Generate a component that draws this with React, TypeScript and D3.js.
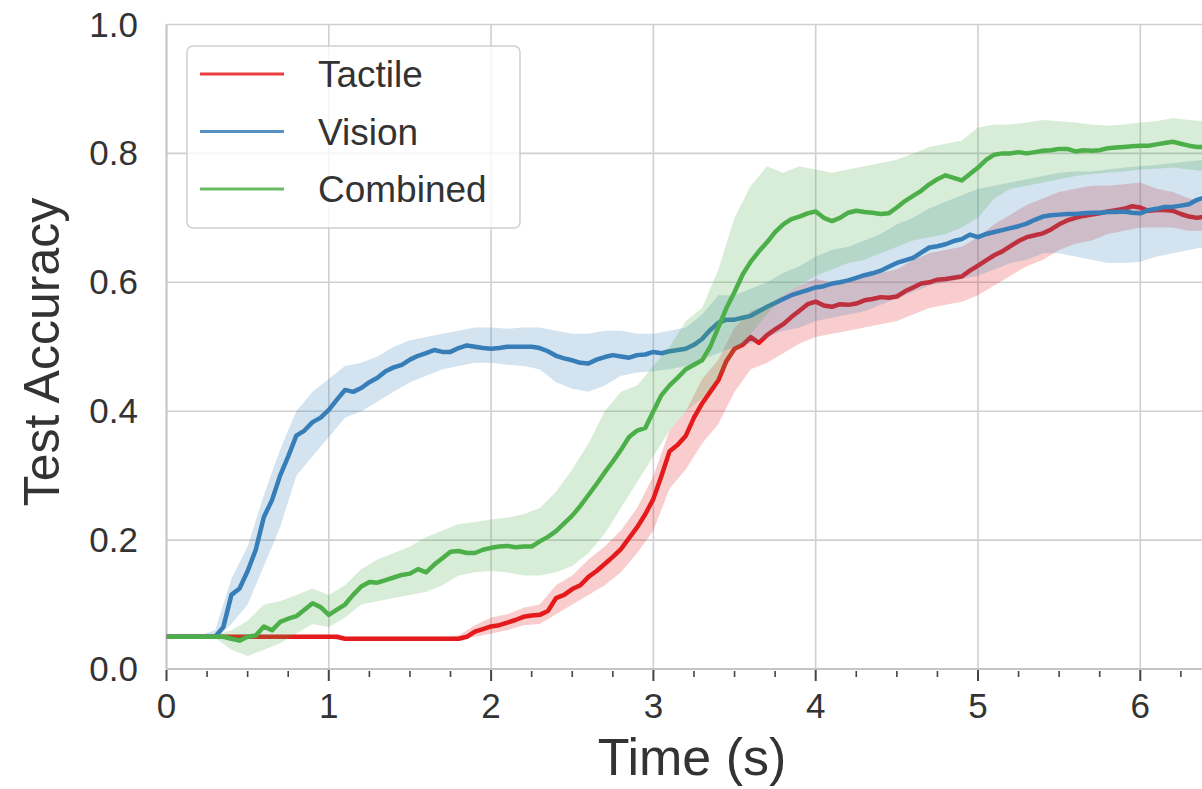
import React from 'react';
import * as d3 from 'd3';

// sampling of the curves (seconds)
const TIME_STEP = 0.05;
const BAND_STEP = 0.1;

const seriesNames = ['Tactile', 'Vision', 'Combined'];
const seriesColors = ['#e41a1c', '#377eb8', '#4daf4a'];

const xTicks = [0, 1, 2, 3, 4, 5, 6];
const xMinorTicks = [0.25, 0.5, 0.75, 1.25, 1.5, 1.75, 2.25, 2.5, 2.75, 3.25, 3.5, 3.75, 4.25, 4.5, 4.75, 5.25, 5.5, 5.75, 6.25];
const yTicks = [0, 0.2, 0.4, 0.6, 0.8, 1.0];

// mean accuracy, one value every 0.05 s from 0 to 6.4 s
const tactileMean = [
  0.05, 0.05, 0.05, 0.05, 0.05, 0.05, 0.05, 0.05, 0.05, 0.05,
  0.05, 0.05, 0.05, 0.05, 0.05, 0.05, 0.05, 0.05, 0.05, 0.05,
  0.05, 0.05, 0.047, 0.047, 0.047, 0.047, 0.047, 0.047, 0.047, 0.047,
  0.047, 0.047, 0.047, 0.047, 0.047, 0.047, 0.047, 0.05, 0.058, 0.062,
  0.066, 0.068, 0.072, 0.076, 0.081, 0.083, 0.084, 0.09, 0.11, 0.115,
  0.124, 0.13, 0.143, 0.152, 0.163, 0.174, 0.186, 0.203, 0.22, 0.24,
  0.264, 0.30, 0.338, 0.348, 0.362, 0.39, 0.412, 0.43, 0.448, 0.478,
  0.497, 0.503, 0.515, 0.506, 0.518, 0.527, 0.535, 0.546, 0.556, 0.566,
  0.57, 0.564, 0.562, 0.566, 0.565, 0.567, 0.572, 0.574, 0.577, 0.576,
  0.578, 0.586, 0.592, 0.598, 0.60, 0.604, 0.605, 0.607, 0.609, 0.618,
  0.626, 0.634, 0.642, 0.648, 0.656, 0.664, 0.67, 0.673, 0.676, 0.682,
  0.69, 0.696, 0.70, 0.703, 0.705, 0.707, 0.71, 0.712, 0.714, 0.718,
  0.716, 0.711, 0.712, 0.712, 0.711, 0.706, 0.702, 0.70, 0.702,
];

const visionMean = [
  0.05, 0.05, 0.05, 0.05, 0.05, 0.05, 0.05, 0.065, 0.115, 0.125,
  0.152, 0.185, 0.236, 0.262, 0.30, 0.33, 0.362, 0.37, 0.383, 0.39,
  0.402, 0.418, 0.433, 0.43, 0.436, 0.445, 0.452, 0.462, 0.468, 0.472,
  0.48, 0.486, 0.49, 0.495, 0.492, 0.492, 0.498, 0.502, 0.50, 0.498,
  0.497, 0.498, 0.50, 0.50, 0.50, 0.50, 0.498, 0.493, 0.486, 0.482,
  0.479, 0.475, 0.474, 0.48, 0.484, 0.487, 0.485, 0.483, 0.487, 0.488,
  0.492, 0.49, 0.493, 0.495, 0.497, 0.503, 0.512, 0.526, 0.537, 0.542,
  0.542, 0.545, 0.548, 0.555, 0.562, 0.568, 0.574, 0.58, 0.584, 0.588,
  0.592, 0.594, 0.598, 0.60, 0.603, 0.607, 0.611, 0.614, 0.618, 0.624,
  0.63, 0.634, 0.638, 0.646, 0.654, 0.656, 0.659, 0.664, 0.667, 0.674,
  0.67, 0.675, 0.678, 0.681, 0.684, 0.687, 0.691, 0.697, 0.702, 0.704,
  0.705, 0.706, 0.706, 0.707, 0.708, 0.708, 0.709, 0.709, 0.71, 0.708,
  0.707, 0.712, 0.714, 0.717, 0.717, 0.719, 0.721, 0.728, 0.732,
];

const combinedMean = [
  0.05, 0.05, 0.05, 0.05, 0.05, 0.05, 0.05, 0.05, 0.047, 0.044,
  0.05, 0.052, 0.066, 0.06, 0.073, 0.078, 0.082, 0.092, 0.102, 0.096,
  0.084, 0.092, 0.10, 0.115, 0.128, 0.135, 0.134, 0.138, 0.142, 0.146,
  0.148, 0.155, 0.15, 0.162, 0.172, 0.182, 0.183, 0.18, 0.18, 0.185,
  0.188, 0.19, 0.191, 0.189, 0.19, 0.19, 0.198, 0.205, 0.214, 0.226,
  0.238, 0.253, 0.27, 0.287, 0.305, 0.322, 0.34, 0.36, 0.37, 0.374,
  0.40, 0.425, 0.44, 0.452, 0.465, 0.472, 0.479, 0.50, 0.53, 0.56,
  0.585, 0.612, 0.632, 0.648, 0.662, 0.678, 0.69, 0.698, 0.702, 0.707,
  0.71, 0.70, 0.695, 0.70, 0.708, 0.711, 0.709, 0.708, 0.706, 0.707,
  0.716, 0.726, 0.734, 0.742, 0.752, 0.76, 0.766, 0.762, 0.758, 0.768,
  0.778, 0.79, 0.798, 0.80, 0.80, 0.802, 0.80, 0.802, 0.804, 0.805,
  0.807, 0.807, 0.803, 0.805, 0.804, 0.805, 0.808, 0.809, 0.81, 0.811,
  0.812, 0.812, 0.814, 0.816, 0.818, 0.815, 0.812, 0.81, 0.81,
];

// spread band (lower / upper), one value every 0.1 s from 0 to 6.4 s
const tactileLow = [
  0.047, 0.047, 0.047, 0.047, 0.047, 0.047, 0.047, 0.047, 0.047, 0.047,
  0.047, 0.044, 0.044, 0.044, 0.044, 0.044, 0.044, 0.044, 0.044, 0.05,
  0.055, 0.06, 0.068, 0.07, 0.085, 0.10, 0.115, 0.13, 0.15, 0.18,
  0.215, 0.28, 0.31, 0.35, 0.38, 0.43, 0.465, 0.475, 0.49, 0.505,
  0.515, 0.52, 0.525, 0.53, 0.535, 0.54, 0.55, 0.56, 0.565, 0.57,
  0.58, 0.595, 0.61, 0.625, 0.635, 0.65, 0.66, 0.665, 0.675, 0.68,
  0.685, 0.685, 0.685, 0.68, 0.68,
];
const tactileHigh = [
  0.053, 0.053, 0.053, 0.053, 0.053, 0.053, 0.053, 0.053, 0.053, 0.053,
  0.053, 0.05, 0.05, 0.05, 0.05, 0.05, 0.05, 0.05, 0.052, 0.068,
  0.08, 0.085, 0.095, 0.10, 0.13, 0.145, 0.17, 0.19, 0.215, 0.25,
  0.30, 0.37, 0.40, 0.45, 0.48, 0.53, 0.555, 0.565, 0.58, 0.595,
  0.605, 0.60, 0.605, 0.61, 0.615, 0.62, 0.635, 0.645, 0.65, 0.655,
  0.67, 0.69, 0.705, 0.72, 0.73, 0.74, 0.745, 0.75, 0.75, 0.752,
  0.755, 0.745, 0.74, 0.73, 0.725,
];
const visionLow = [
  0.048, 0.048, 0.048, 0.046, 0.07, 0.10, 0.16, 0.22, 0.30, 0.33,
  0.36, 0.39, 0.40, 0.415, 0.43, 0.445, 0.455, 0.465, 0.47, 0.475,
  0.475, 0.472, 0.47, 0.465, 0.445, 0.435, 0.43, 0.44, 0.455, 0.46,
  0.462, 0.465, 0.47, 0.48, 0.49, 0.50, 0.505, 0.515, 0.525, 0.53,
  0.54, 0.545, 0.55, 0.555, 0.565, 0.575, 0.585, 0.595, 0.60, 0.605,
  0.61, 0.62, 0.63, 0.635, 0.645, 0.645, 0.64, 0.635, 0.63, 0.63,
  0.632, 0.64, 0.645, 0.65, 0.655,
];
const visionHigh = [
  0.052, 0.052, 0.052, 0.06, 0.14, 0.19, 0.27, 0.34, 0.40, 0.43,
  0.45, 0.47, 0.475, 0.485, 0.50, 0.51, 0.515, 0.52, 0.525, 0.53,
  0.53, 0.528, 0.53, 0.53, 0.525, 0.52, 0.52, 0.525, 0.525, 0.52,
  0.52, 0.525, 0.53, 0.55, 0.58, 0.58, 0.59, 0.60, 0.615, 0.625,
  0.64, 0.65, 0.655, 0.665, 0.675, 0.69, 0.70, 0.715, 0.725, 0.735,
  0.745, 0.75, 0.755, 0.76, 0.765, 0.77, 0.772, 0.772, 0.775, 0.778,
  0.78, 0.782, 0.785, 0.788, 0.79,
];
const combinedLow = [
  0.048, 0.048, 0.048, 0.048, 0.03, 0.02, 0.03, 0.04, 0.055, 0.07,
  0.065, 0.08, 0.10, 0.105, 0.11, 0.115, 0.12, 0.13, 0.145, 0.15,
  0.152, 0.15, 0.145, 0.145, 0.15, 0.16, 0.18, 0.21, 0.25, 0.29,
  0.33, 0.37, 0.40, 0.42, 0.45, 0.49, 0.52, 0.55, 0.58, 0.595,
  0.61, 0.62, 0.63, 0.635, 0.645, 0.655, 0.665, 0.67, 0.675, 0.685,
  0.70, 0.73, 0.745, 0.75, 0.755, 0.76, 0.765, 0.768, 0.77, 0.772,
  0.775, 0.776, 0.778, 0.775, 0.772,
];
const combinedHigh = [
  0.052, 0.052, 0.052, 0.052, 0.06, 0.075, 0.10, 0.105, 0.115, 0.125,
  0.115, 0.13, 0.155, 0.17, 0.18, 0.19, 0.205, 0.215, 0.225, 0.228,
  0.232, 0.235, 0.24, 0.25, 0.275, 0.31, 0.35, 0.40, 0.43, 0.44,
  0.47, 0.50, 0.54, 0.56, 0.62, 0.70, 0.75, 0.78, 0.77, 0.78,
  0.775, 0.77, 0.775, 0.78, 0.785, 0.79, 0.80, 0.81, 0.815, 0.82,
  0.84, 0.845, 0.845, 0.848, 0.852, 0.85, 0.848, 0.845, 0.843, 0.845,
  0.848, 0.85, 0.855, 0.852, 0.85,
];

const means = [tactileMean, visionMean, combinedMean];
const lows = [tactileLow, visionLow, combinedLow];
const highs = [tactileHigh, visionHigh, combinedHigh];

const W = 1202;
const H = 789;
const left = 166.5;
const top = 24.5;
const bottom = 669;
const pxPerSecond = 162.3;

const x = d3.scaleLinear().domain([0, 6.5]).range([left, left + pxPerSecond * 6.5]);
const y = d3.scaleLinear().domain([0, 1]).range([bottom, top]);

const lineGen = d3.line<number>()
  .x((d, i) => x(i * TIME_STEP))
  .y(d => y(d));

const areaGen = (lo: number[], hi: number[]) =>
  d3.area<number>()
    .x((d, i) => x(i * BAND_STEP))
    .y0((d, i) => y(lo[i]))
    .y1((d, i) => y(hi[i]))(lo);

const textColor = '#333333';
const gridColor = '#d0d0d0';
const font = '"Liberation Sans", Arial, sans-serif';

export default function App() {
  const right = x.range()[1];
  return (
    <svg width={W} height={H} style={{ position: 'absolute', left: 0, top: 0, fontFamily: font }}>
      <rect width={W} height={H} fill="#fff" />
      <defs>
        <clipPath id="plot-clip">
          <rect x={left} y={top} width={right - left} height={bottom - top} />
        </clipPath>
      </defs>

      {/* grid */}
      {xTicks.map(t => (
        <line key={'gx' + t} x1={x(t)} x2={x(t)} y1={top} y2={bottom} stroke={gridColor} strokeWidth={1.6} />
      ))}
      {yTicks.map(v => (
        <line key={'gy' + v} x1={left} x2={right} y1={y(v)} y2={y(v)} stroke={gridColor} strokeWidth={1.6} />
      ))}
      <line x1={left} x2={left} y1={top} y2={bottom} stroke="#c4c4c4" strokeWidth={1.8} />
      <line x1={left} x2={right} y1={bottom} y2={bottom} stroke="#c4c4c4" strokeWidth={1.8} />

      {/* bands and mean lines */}
      <g clipPath="url(#plot-clip)">
        {seriesNames.map((name, k) => (
          <g key={name}>
            <path d={areaGen(lows[k], highs[k]) || ''} fill={seriesColors[k]} fillOpacity={0.22} stroke="none" />
            <path d={lineGen(means[k]) || ''} fill="none" stroke={seriesColors[k]} strokeWidth={4.5} strokeLinejoin="round" />
          </g>
        ))}
      </g>

      {/* x ticks */}
      {xTicks.map(t => (
        <line key={'tx' + t} x1={x(t)} x2={x(t)} y1={bottom + 1} y2={bottom + 12} stroke="#444" strokeWidth={2} />
      ))}
      {xMinorTicks.map(t => (
        <line key={'mx' + t} x1={x(t)} x2={x(t)} y1={bottom + 2} y2={bottom + 8} stroke="#444" strokeWidth={1.6} />
      ))}
      {xTicks.map(t => (
        <text key={'lx' + t} x={x(t)} y={718} textAnchor="middle" fontSize={35} fill={textColor}>{t}</text>
      ))}
      {yTicks.map(v => (
        <text key={'ly' + v} x={138} y={y(v) + 12} textAnchor="end" fontSize={35} fill={textColor}>{v.toFixed(1)}</text>
      ))}

      {/* axis titles */}
      <text x={692} y={775} textAnchor="middle" fontSize={52} fill={textColor}>Time (s)</text>
      <text transform="translate(59,352) rotate(-90)" textAnchor="middle" fontSize={50} fill={textColor}>Test Accuracy</text>

      {/* legend */}
      <rect x={187} y={46} width={333} height={182} rx={6} fill="#fff" fillOpacity={0.8} stroke="#cfcfcf" strokeWidth={1.5} />
      {seriesNames.map((name, k) => (
        <g key={'lg' + name}>
          <line x1={200} x2={284} y1={74 + k * 57.5} y2={74 + k * 57.5} stroke={seriesColors[k]} strokeWidth={3} strokeOpacity={0.85} />
          <text x={318} y={74 + k * 57.5 + 13} fontSize={37} fill={textColor}>{name}</text>
        </g>
      ))}
    </svg>
  );
}
